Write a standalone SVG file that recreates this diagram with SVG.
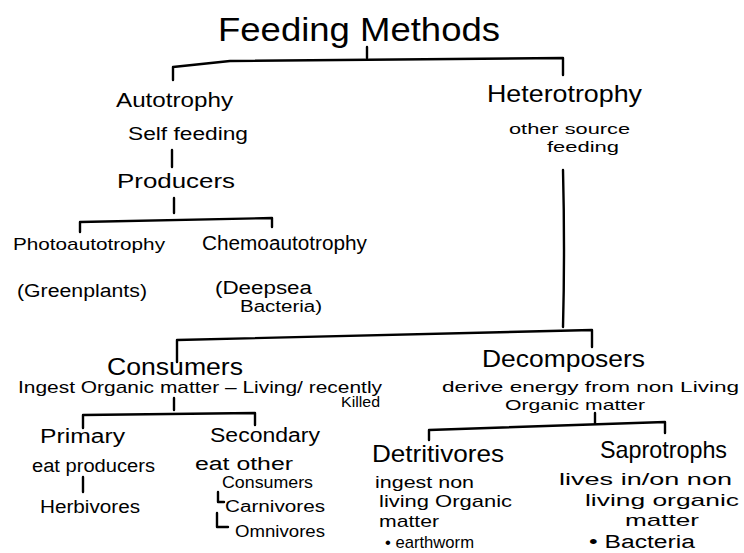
<svg xmlns="http://www.w3.org/2000/svg" width="744" height="553" viewBox="0 0 744 553">
  <style>
    text { font-family: "Liberation Sans", "DejaVu Sans", sans-serif; fill: #000; }
    .t-title { font-size: 33px; }
    .t-head { font-size: 24px; }
    .t-mid { font-size: 20px; }
    .t-sub { font-size: 18px; }
    .t-note { font-size: 17px; }
    .t-small { font-size: 16px; }
    .t-tight { font-size: 15px; }
    .link { fill: none; stroke: #000; stroke-width: 2.4; stroke-linecap: round; stroke-linejoin: round; }
  </style>
  <rect width="744" height="553" fill="#fff"/>

  <!-- connectors -->
  <g id="connectors" class="link">
    <!-- Feeding Methods -> Autotrophy / Heterotrophy -->
    <path d="M367,47 V58"/>
    <path d="M173,80 V67 L230,61 L563,58 V75"/>
    <!-- Self feeding -> Producers -->
    <path d="M172,150 V167"/>
    <!-- Producers -> Photo / Chemo -->
    <path d="M174,198 V213"/>
    <path d="M80,232 V222 L272,218 V227"/>
    <!-- Heterotrophy -> Consumers / Decomposers -->
    <path d="M563,170 Q565,250 563,327"/>
    <path d="M177,362 V340 L592,330 V347"/>
    <!-- Consumers -> Primary / Secondary -->
    <path d="M174,398 V410"/>
    <path d="M83,428 V415 L255,413 V425"/>
    <!-- Primary -> Herbivores -->
    <path d="M83,477 V492"/>
    <!-- Secondary -> Carnivores / Omnivores -->
    <path d="M218,492 V502 H224"/>
    <path d="M217,513 V527 H228"/>
    <!-- Decomposers -> Detritivores / Saprotrophs -->
    <path d="M595,413 V423"/>
    <path d="M429,440 V430 L665,422 V433"/>
  </g>

  <g id="feeding-methods">
    <text class="t-title" x="218" y="41" textLength="282" lengthAdjust="spacingAndGlyphs">Feeding Methods</text>
  </g>

  <g id="autotrophy">
    <text class="t-mid" x="116" y="107" textLength="117" lengthAdjust="spacingAndGlyphs">Autotrophy</text>
    <text class="t-sub" x="128" y="140" textLength="120" lengthAdjust="spacingAndGlyphs">Self feeding</text>
  </g>

  <g id="producers">
    <text class="t-mid" x="117" y="188" textLength="118" lengthAdjust="spacingAndGlyphs">Producers</text>
  </g>

  <g id="photoautotrophy">
    <text class="t-note" x="13" y="250" textLength="152" lengthAdjust="spacingAndGlyphs">Photoautotrophy</text>
    <text class="t-sub" x="17" y="297" textLength="130" lengthAdjust="spacingAndGlyphs">(Greenplants)</text>
  </g>

  <g id="chemoautotrophy">
    <text class="t-mid" x="202" y="250" textLength="165" lengthAdjust="spacingAndGlyphs">Chemoautotrophy</text>
    <text class="t-sub" x="215" y="294" textLength="97" lengthAdjust="spacingAndGlyphs">(Deepsea</text>
    <text class="t-small" x="240" y="312" textLength="82" lengthAdjust="spacingAndGlyphs">Bacteria)</text>
  </g>

  <g id="heterotrophy">
    <text class="t-head" x="487" y="102" textLength="155" lengthAdjust="spacingAndGlyphs">Heterotrophy</text>
    <text class="t-tight" x="509" y="134" textLength="121" lengthAdjust="spacingAndGlyphs">other source</text>
    <text class="t-tight" x="547" y="152" textLength="72" lengthAdjust="spacingAndGlyphs">feeding</text>
  </g>

  <g id="consumers">
    <text class="t-head" x="107" y="375" textLength="136" lengthAdjust="spacingAndGlyphs">Consumers</text>
    <text class="t-note" x="18" y="393" textLength="364" lengthAdjust="spacingAndGlyphs">Ingest Organic matter – Living/ recently</text>
    <text class="t-tight" x="341" y="407" textLength="39" lengthAdjust="spacingAndGlyphs">Killed</text>
  </g>

  <g id="decomposers">
    <text class="t-head" x="482" y="367" textLength="163" lengthAdjust="spacingAndGlyphs">Decomposers</text>
    <text class="t-tight" x="442" y="392" textLength="297" lengthAdjust="spacingAndGlyphs">derive energy from non Living</text>
    <text class="t-tight" x="505" y="410" textLength="140" lengthAdjust="spacingAndGlyphs">Organic matter</text>
  </g>

  <g id="primary">
    <text class="t-mid" x="40" y="443" textLength="85" lengthAdjust="spacingAndGlyphs">Primary</text>
    <text class="t-sub" x="32" y="472" textLength="123" lengthAdjust="spacingAndGlyphs">eat producers</text>
  </g>

  <g id="herbivores">
    <text class="t-sub" x="40" y="513" textLength="100" lengthAdjust="spacingAndGlyphs">Herbivores</text>
  </g>

  <g id="secondary">
    <text class="t-mid" x="210" y="442" textLength="110" lengthAdjust="spacingAndGlyphs">Secondary</text>
    <text class="t-sub" x="195" y="470" textLength="98" lengthAdjust="spacingAndGlyphs">eat other</text>
    <text class="t-small" x="222" y="488" textLength="91" lengthAdjust="spacingAndGlyphs">Consumers</text>
  </g>

  <g id="carnivores">
    <text class="t-small" x="225" y="512" textLength="100" lengthAdjust="spacingAndGlyphs">Carnivores</text>
  </g>

  <g id="omnivores">
    <text class="t-small" x="235" y="537" textLength="90" lengthAdjust="spacingAndGlyphs">Omnivores</text>
  </g>

  <g id="detritivores">
    <text class="t-head" x="372" y="462" textLength="132" lengthAdjust="spacingAndGlyphs">Detritivores</text>
    <text class="t-note" x="375" y="488" textLength="99" lengthAdjust="spacingAndGlyphs">ingest non</text>
    <text class="t-note" x="379" y="507" textLength="133" lengthAdjust="spacingAndGlyphs">living Organic</text>
    <text class="t-note" x="379" y="527" textLength="60" lengthAdjust="spacingAndGlyphs">matter</text>
    <text class="t-note" x="385" y="548" textLength="89" lengthAdjust="spacingAndGlyphs">• earthworm</text>
  </g>

  <g id="saprotrophs">
    <text class="t-head" x="600" y="458" textLength="127" lengthAdjust="spacingAndGlyphs">Saprotrophs</text>
    <text class="t-note" x="559" y="485" textLength="173" lengthAdjust="spacingAndGlyphs">lives in/on non</text>
    <text class="t-note" x="585" y="506" textLength="154" lengthAdjust="spacingAndGlyphs">living organic</text>
    <text class="t-note" x="625" y="526" textLength="74" lengthAdjust="spacingAndGlyphs">matter</text>
    <text class="t-sub" x="589" y="548" textLength="106" lengthAdjust="spacingAndGlyphs">• Bacteria</text>
  </g>
</svg>
